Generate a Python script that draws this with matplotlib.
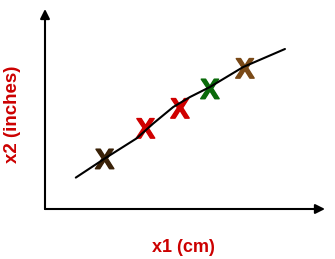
import matplotlib.pyplot as plt
import matplotlib.patheffects as pe

# sample points (x1, x2) and their marker colours
pts_x = [2.13, 3.59, 4.82, 5.89, 7.14]
pts_y = [2.52, 4.05, 5.05, 6.02, 7.05]
pts_col = ['#3a2208', '#d00000', '#d00000', '#0a6a0a', '#7a4a18']

# fitted curve
fit_x = [1.10, 2.14, 3.27, 3.87, 4.58, 5.18, 5.89, 7.08, 8.57]
fit_y = [1.57, 2.53, 3.53, 4.28, 5.10, 5.60, 6.10, 7.10, 8.00]

plt.rcParams['font.family'] = ['Liberation Sans', 'DejaVu Sans']

fig = plt.figure(figsize=(3.35, 2.59), dpi=100)
ax = fig.add_axes([45 / 335, 50 / 259, 280 / 335, 200 / 259])
ax.set_xlim(0, 10)
ax.set_ylim(0, 10)
ax.axis('off')

# axes drawn as arrows
arrow = dict(arrowstyle='-|>', color='black', lw=1.5, mutation_scale=14,
             shrinkA=0, shrinkB=0)
ax.annotate('', xy=(1, 0), xytext=(0, 0), xycoords='axes fraction',
            arrowprops=arrow)
ax.annotate('', xy=(0, 1), xytext=(0, 0), xycoords='axes fraction',
            arrowprops=arrow)

# curve sits on top of the X markers
ax.plot(fit_x, fit_y, color='black', lw=1.5, solid_capstyle='round', zorder=4)

# "X" markers, baseline shifted down by half the cap height
for x, y, c in zip(pts_x, pts_y, pts_col):
    ax.annotate('X', (x, y), xytext=(0, -7.3), textcoords='offset points',
                color=c, fontsize=20.5, fontweight='bold',
                ha='center', va='baseline', zorder=3,
                path_effects=[pe.withStroke(linewidth=1.0, foreground=c)])

fig.text(183 / 335, 1 - 248 / 259, 'x1 (cm)', color='#cc0000', fontsize=13,
         fontweight='bold', ha='center', va='center')
fig.text(13 / 335, 1 - 114 / 259, 'x2 (inches)', color='#cc0000', fontsize=13.5,
         fontweight='bold', ha='center', va='center', rotation=90)

fig.savefig('out.png', dpi=100)
